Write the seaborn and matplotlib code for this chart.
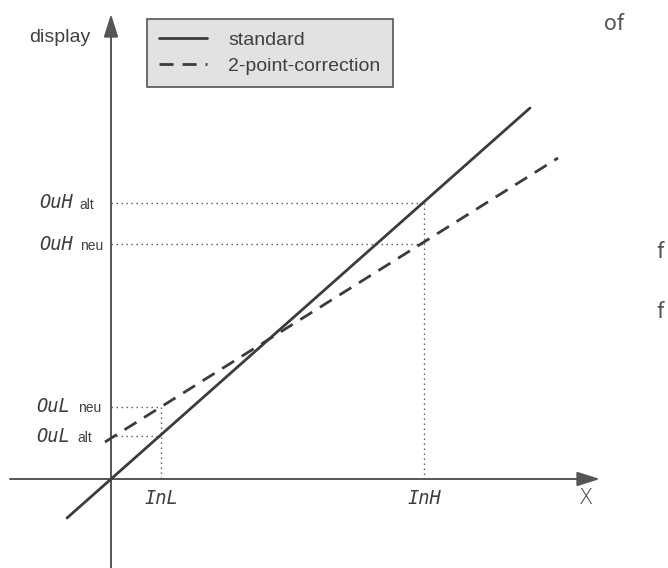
import matplotlib
matplotlib.use("Agg")
import matplotlib.pyplot as plt
import seaborn as sns
import pandas as pd

# ---- data (diagram units: x = input, y = display) ----
series_names = ["standard", "2-point-correction"]
standard_x = [-44, 419]
standard_y = [-39, 371]
corr_x = [-6, 447]
corr_y = [37, 321]

InL, InH = 50, 313
OuL_alt, OuL_neu = 43, 72
OuH_alt, OuH_neu = 276, 235

x_axis = [-101, 489]
y_axis = [-89, 465]

W, H = 668, 568
X0, Y0 = 111, 479  # pixel position of origin

sns.set_style("white")
plt.rcParams["lines.scale_dashes"] = False
plt.rcParams["font.family"] = ["Liberation Sans", "DejaVu Sans"]

fig = plt.figure(figsize=(W / 100, H / 100), dpi=100)
ax = fig.add_axes([0, 0, 1, 1])
ax.set_xlim(-X0, W - X0)
ax.set_ylim(Y0 - H, Y0)
ax.axis("off")

line_c = "#3c3c3c"
axis_c = "#555555"
text_c = "#404040"

df_std = pd.DataFrame({"x": standard_x, "y": standard_y})
df_cor = pd.DataFrame({"x": corr_x, "y": corr_y})
sns.lineplot(data=df_std, x="x", y="y", ax=ax, color=line_c, lw=2.0,
             label=series_names[0], legend=False, zorder=4)
sns.lineplot(data=df_cor, x="x", y="y", ax=ax, color=line_c, lw=2.0,
             linestyle=(0, (10.1, 6.5)), label=series_names[1], legend=False, zorder=4)

# axes with arrow heads
arrow = dict(arrowstyle="-|>,head_length=0.7,head_width=0.22", mutation_scale=20,
             lw=1.4, color=axis_c, shrinkA=0, shrinkB=0)
ax.annotate("", xy=(x_axis[1], 0), xytext=(x_axis[0], 0), arrowprops=arrow, zorder=3)
ax.annotate("", xy=(0, y_axis[1]), xytext=(0, y_axis[0]), arrowprops=arrow, zorder=3)

# dotted guide lines
dot = dict(color=axis_c, lw=1.0, linestyle=(0, (1.0, 2.6)), zorder=2)
ax.plot([0, InH], [OuH_alt, OuH_alt], **dot)
ax.plot([0, InH], [OuH_neu, OuH_neu], **dot)
ax.plot([InH, InH], [OuH_alt, 0], **dot)
ax.plot([0, InL], [OuL_neu, OuL_neu], **dot)
ax.plot([0, InL], [OuL_alt, OuL_alt], **dot)
ax.plot([InL, InL], [OuL_neu, 0], **dot)

# legend
leg = ax.legend(loc="upper left", bbox_to_anchor=(147 / W, 1 - 19 / H),
                bbox_transform=fig.transFigure, fontsize=14, handlelength=2.47,
                handletextpad=1.1, borderpad=0.62, labelspacing=0.45,
                borderaxespad=0, fancybox=False, framealpha=1,
                facecolor="#e2e2e2", edgecolor=axis_c)
leg.get_frame().set_linewidth(1.2)
for t in leg.get_texts():
    t.set_color(text_c)

# seven-segment style labels
seg = dict(family="DejaVu Sans Mono", fontsize=13.5, color=text_c, va="center",
           ha="left", style="oblique")
sub = dict(fontsize=10, color=text_c, va="center", ha="left")

def px(x):
    return x - X0

ax.text(px(39), OuH_alt, "OuH", **seg)
ax.text(px(79), OuH_alt - 2, "alt", **sub)
ax.text(px(39), OuH_neu, "OuH", **seg)
ax.text(px(80), OuH_neu - 2, "neu", **sub)
ax.text(px(36), OuL_neu + 1, "OuL", **seg)
ax.text(px(78), OuL_neu - 1, "neu", **sub)
ax.text(px(36), OuL_alt, "OuL", **seg)
ax.text(px(77), OuL_alt - 2, "alt", **sub)
ax.text(InL, -20, "InL", **{**seg, "ha": "center"})
ax.text(InH, -20, "InH", **{**seg, "ha": "center"})

ax.text(px(60), Y0 - 37, "display", fontsize=14, color=text_c, ha="center", va="center")
ax.text(px(586), Y0 - 498, "X", fontsize=15, color=text_c, ha="center", va="center",
        family="DejaVu Sans", fontweight="light")

side = dict(family="Roboto", fontsize=16, color="#555555", ha="center", va="center")
ax.text(px(614), Y0 - 24, "of", **side)
ax.text(px(660), Y0 - 252, "f", **side)
ax.text(px(660), Y0 - 313, "f", **side)

fig.savefig("out.png", dpi=100, facecolor="white")
